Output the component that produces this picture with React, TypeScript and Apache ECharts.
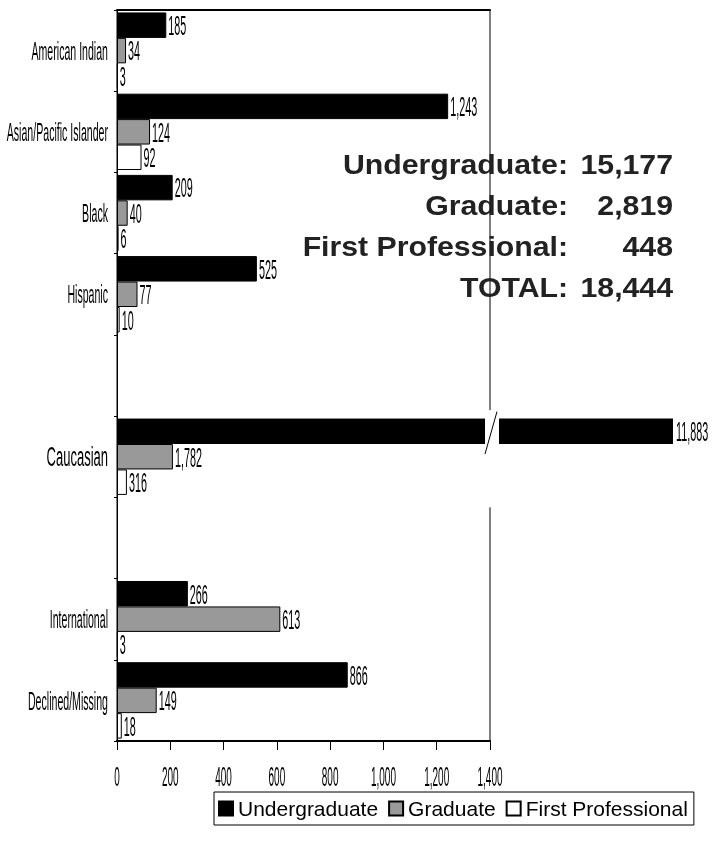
import React, { useEffect, useRef } from "react";
import * as echarts from "echarts";

const categories = [
  "American Indian",
  "Asian/Pacific Islander",
  "Black",
  "Hispanic",
  " ",
  "Caucasian",
  "  ",
  "International",
  "Declined/Missing",
];
const seriesNames = ["Undergraduate", "Graduate", "First Professional"];
const undergraduate = [185, 1243, 209, 525, null, 11883, null, 266, 866];
const graduate = [34, 124, 40, 77, null, 1782, null, 613, 149];
const firstProfessional = [3, 92, 6, 10, null, 316, null, 3, 18];
const xTicks = [0, 200, 400, 600, 800, 1000, 1200, 1400];
const summaryLabels = ["Undergraduate:", "Graduate:", "First Professional:", "TOTAL:"];

const X_MAX = 1400;
const CAT_GAP = 0.06;
const FONT = "'Liberation Sans', Arial, sans-serif";
const fmt = (v: number) => v.toLocaleString("en-US");

const allSeries = [undergraduate, graduate, firstProfessional];
const sum = (a: (number | null)[]) => a.reduce((s: number, v) => s + (v || 0), 0);

// rows whose largest value overflows the axis are drawn on a reduced (broken) scale
const rowMax = categories.map((_, c) => Math.max(...allSeries.map((a) => a[c] ?? 0)));
const rowScale = rowMax.map((m) => (m > X_MAX ? X_MAX / m : 1));
const isBroken = (v: number, c: number) => rowScale[c] < 1 && v === rowMax[c];

export default function App() {
  const ref = useRef<HTMLDivElement>(null);
  useEffect(() => {
    if (!ref.current) return;
    const chart = echarts.init(ref.current, undefined, { renderer: "svg" });

    const barFill = ["#000000", "#999999", "#ffffff"];

    const barSeries = allSeries.map((arr, s) => ({
      type: "bar",
      name: seriesNames[s],
      data: arr.map((v, c) => (v == null ? "-" : v * rowScale[c])),
      barGap: "0%",
      barCategoryGap: `${CAT_GAP * 100}%`,
      itemStyle: { color: barFill[s], borderColor: "#000", borderWidth: 1 },
      emphasis: { disabled: true },
    }));

    const barRect = (api: any, v: number, c: number, s: number) => {
      const pt = api.coord([v, c]);
      const band = api.size([0, 1])[1];
      const barW = (band * (1 - CAT_GAP)) / 3;
      const top = pt[1] - band / 2 + (band * CAT_GAP) / 2 + barW * s;
      return { x1: pt[0], top, barW, band, cy: pt[1] };
    };

    const textStyle = (text: string, size: number, align: string) => ({
      text,
      fontFamily: FONT,
      fontSize: size,
      fill: "#000",
      stroke: "none",
      lineWidth: 0,
      textAlign: align,
      textVerticalAlign: "middle",
    });

    const labelData: number[][] = [];
    const breakData: number[][] = [];
    allSeries.forEach((arr, s) =>
      arr.forEach((v, c) => {
        if (v == null) return;
        if (isBroken(v, c)) breakData.push([X_MAX, c, s, v]);
        else labelData.push([v * rowScale[c], c, s, v]);
      })
    );

    const catData = categories
      .map((_, c) => [0, c])
      .filter((d) => categories[d[1]].trim() !== "");

    const tickData = xTicks.map((t) => [t, categories.length - 1]);

    const summaryValues = [
      sum(undergraduate),
      sum(graduate),
      sum(firstProfessional),
      sum(undergraduate) + sum(graduate) + sum(firstProfessional),
    ];

    const summaryText = (text: string, x: number, y: number) => ({
      type: "text",
      x,
      y,
      scaleX: 1.08,
      style: {
        text,
        fontFamily: FONT,
        fontWeight: "bold",
        fontSize: 28,
        fill: "#222",
        textAlign: "right",
        textVerticalAlign: "middle",
      },
    });

    const option: any = {
      animation: false,
      grid: {
        left: 117,
        right: 222,
        top: 10,
        bottom: 103,
        show: true,
        borderColor: "#000",
        borderWidth: 1,
      },
      xAxis: [
        {
          type: "value",
          min: 0,
          max: X_MAX,
          interval: 200,
          splitLine: { show: false },
          axisLine: { show: true, lineStyle: { color: "#000", width: 2 } },
          axisTick: { show: true, length: 9, lineStyle: { color: "#000", width: 1 } },
          axisLabel: { show: false },
        },
        {
          type: "value",
          position: "top",
          min: 0,
          max: X_MAX,
          interval: 200,
          splitLine: { show: false },
          axisLine: { show: true, lineStyle: { color: "#000", width: 2 } },
          axisTick: { show: false },
          axisLabel: { show: false },
        },
      ],
      yAxis: {
        type: "category",
        inverse: true,
        data: categories,
        axisLine: { show: true, lineStyle: { color: "#000", width: 1 } },
        axisTick: { show: true, length: 3, lineStyle: { color: "#000" } },
        axisLabel: { show: false },
      },
      legend: {
        data: seriesNames,
        left: 214,
        top: 792,
        icon: "rect",
        itemWidth: 14,
        itemHeight: 14,
        itemGap: 10,
        padding: [6, 6, 6, 4],
        borderColor: "#000",
        borderWidth: 1,
        borderRadius: 0,
        textStyle: { fontFamily: FONT, fontSize: 21, color: "#000" },
      },
      graphic: [
        ...summaryLabels.map((t, i) => summaryText(t, 568, 164 + i * 41)),
        ...summaryValues.map((v, i) => summaryText(fmt(v), 673, 164 + i * 41)),
      ],
      series: [
        ...barSeries,
        {
          type: "custom",
          name: "barLabels",
          data: labelData,
          encode: { x: 0, y: 1 },
          silent: true,
          z: 5,
          renderItem: (params: any, api: any) => {
            const r = barRect(api, api.value(0), api.value(1), api.value(2));
            return {
              type: "text",
              x: r.x1 + 2,
              y: r.top + r.barW / 2,
              scaleY: 2.5,
              style: textStyle(fmt(api.value(3)), 10.8, "left"),
            };
          },
        },
        {
          type: "custom",
          name: "break",
          data: breakData,
          encode: { x: 0, y: 1 },
          silent: true,
          z: 6,
          renderItem: (params: any, api: any) => {
            const r = barRect(api, api.value(0), api.value(1), api.value(2));
            const edge = r.x1;
            const ext = 174;
            return {
              type: "group",
              children: [
                {
                  type: "rect",
                  shape: { x: edge - 5, y: r.top - 2, width: 14, height: r.barW + 4 },
                  style: { fill: "#fff" },
                },
                {
                  type: "rect",
                  shape: { x: edge - 2, y: r.cy - r.band / 2 - 6, width: 4, height: r.band + 16 },
                  style: { fill: "#fff" },
                },
                {
                  type: "rect",
                  shape: { x: edge + 9, y: r.top, width: ext, height: r.barW },
                  style: { fill: "#000" },
                },
                {
                  type: "line",
                  shape: { x1: edge - 5, y1: r.top + r.barW + 10, x2: edge + 7, y2: r.top - 7 },
                  style: { stroke: "#000", lineWidth: 1 },
                },
                {
                  type: "text",
                  x: edge + 9 + ext + 3,
                  y: r.top + r.barW / 2,
                  scaleY: 2.5,
                  style: textStyle(fmt(api.value(3)), 10.8, "left"),
                },
              ],
            };
          },
        },
        {
          type: "custom",
          name: "catLabels",
          data: catData,
          encode: { x: 0, y: 1 },
          silent: true,
          renderItem: (params: any, api: any) => {
            const c = api.value(1);
            const pt = api.coord([0, c]);
            const name = categories[c];
            const big = name === "Caucasian";
            return {
              type: "text",
              x: pt[0] - 9,
              y: pt[1],
              scaleY: big ? 2.1 : 2.4,
              style: textStyle(name, big ? 13 : 10.6, "right"),
            };
          },
        },
        {
          type: "custom",
          name: "tickLabels",
          data: tickData,
          encode: { x: 0, y: 1 },
          silent: true,
          renderItem: (params: any, api: any) => {
            const t = api.value(0);
            const pt = api.coord([t, api.value(1)]);
            const band = api.size([0, 1])[1];
            return {
              type: "text",
              x: pt[0],
              y: pt[1] + band / 2 + 35,
              scaleY: 2.8,
              style: textStyle(fmt(t), 10, "center"),
            };
          },
        },
      ],
    };

    chart.setOption(option);
    return () => chart.dispose();
  }, []);

  return (
    <div
      ref={ref}
      style={{ width: 712, height: 844, position: "absolute", left: 0, top: 0, filter: "grayscale(1)" }}
    />
  );
}
